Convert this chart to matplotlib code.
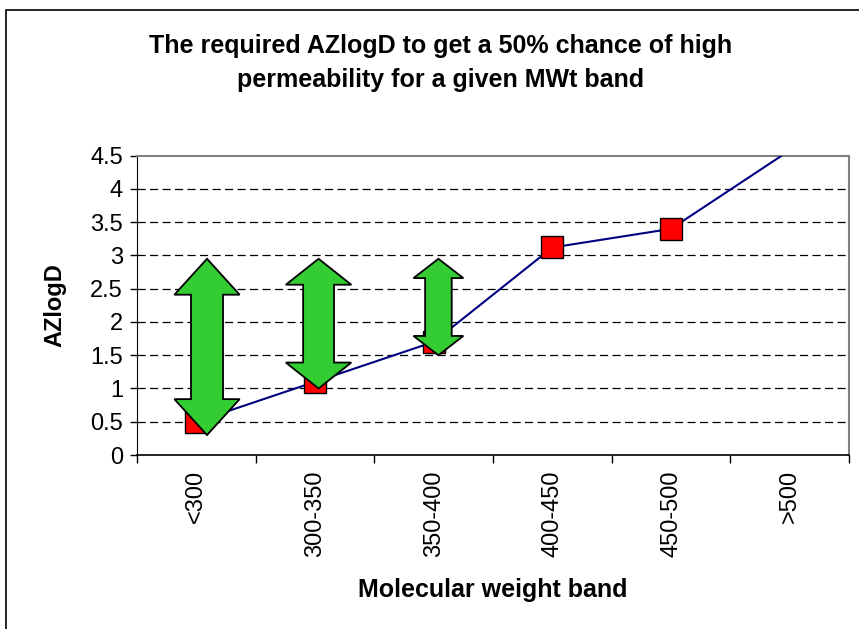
import matplotlib.pyplot as plt
from matplotlib.patches import Polygon, Rectangle
from matplotlib.ticker import FixedLocator, NullFormatter

plt.rcParams['font.family'] = ['Liberation Sans', 'DejaVu Sans']

# data
bands = ['<300', '300-350', '350-400', '400-450', '450-500', '>500']
azlogd = [0.5, 1.1, 1.7, 3.12, 3.4, 4.58]
n_marked = 5  # last band has no marker, only the line

# green double arrows (range of AZlogD shown per band)
arrow_pos = [0.09, 1.03, 2.04]
arrow_top = [2.95, 2.95, 2.95]
arrow_bottom = [0.3, 1.0, 1.5]
arrow_head_hw = [0.275, 0.276, 0.21]
arrow_shaft_hw = [0.135, 0.13, 0.112]
arrow_head_len = [0.54, 0.39, 0.29]


def double_arrow(xc, y0, y1, hhw, shw, hl):
    pts = [(xc, y1), (xc + hhw, y1 - hl), (xc + shw, y1 - hl), (xc + shw, y0 + hl),
           (xc + hhw, y0 + hl), (xc, y0), (xc - hhw, y0 + hl), (xc - shw, y0 + hl),
           (xc - shw, y1 - hl), (xc - hhw, y1 - hl)]
    return Polygon(pts, closed=True, facecolor='#33cc33', edgecolor='black', linewidth=1.3, zorder=5)


fig = plt.figure(figsize=(8.59, 6.29), dpi=100)
# outer frame (cut off at right/bottom like the original)
fig.patches.append(Rectangle((6 / 859, -0.1), 1.2, 1 - 10 / 629 + 0.1, transform=fig.transFigure,
                             fill=False, edgecolor='black', linewidth=1.2))

ax = fig.add_axes((137 / 859, 1 - 455 / 629, (849 - 137) / 859, (455 - 155.7) / 629))
x = list(range(len(bands)))
ax.plot(x, azlogd, color='#000080', linewidth=1.5, zorder=3)
ax.plot(x[:n_marked], azlogd[:n_marked], linestyle='none', marker='s', markersize=16,
        markerfacecolor='red', markeredgecolor='black', markeredgewidth=1, zorder=4)

for i in range(len(arrow_pos)):
    ax.add_patch(double_arrow(arrow_pos[i], arrow_bottom[i], arrow_top[i],
                              arrow_head_hw[i], arrow_shaft_hw[i], arrow_head_len[i]))

ax.set_xlim(-0.5, len(bands) - 0.5)
ax.set_ylim(0, 4.5)

yt = [i * 0.5 for i in range(10)]
ax.set_yticks(yt)
ax.set_yticklabels(['%g' % v for v in yt], fontsize=17)
ax.tick_params(axis='y', direction='out', length=5, width=1, pad=5)
for v in yt[1:-1]:
    ax.axhline(v, color='black', linewidth=0.9, linestyle=(0, (6.5, 3.5)), zorder=1)

ax.xaxis.set_major_locator(FixedLocator([i - 0.5 for i in range(len(bands) + 1)]))
ax.xaxis.set_major_formatter(NullFormatter())
ax.set_xticks(x, minor=True)
ax.set_xticklabels(bands, minor=True, rotation=90, fontsize=17)
ax.tick_params(axis='x', which='major', direction='out', length=6, width=1)
ax.tick_params(axis='x', which='minor', length=0, pad=11)

ax.spines['left'].set_color('black')
ax.spines['bottom'].set_color('black')
ax.spines['bottom'].set_linewidth(1.2)
ax.spines['top'].set_color('#808080')
ax.spines['right'].set_color('#808080')
ax.spines['top'].set_linewidth(1.5)
ax.spines['right'].set_linewidth(1.5)

ax.set_ylabel('AZlogD', fontsize=17, fontweight='bold')
ax.yaxis.set_label_coords(-(137 - 66) / 712, 0.5)
ax.set_xlabel('Molecular weight band', fontsize=18, fontweight='bold')
ax.xaxis.set_label_coords(0.5, -(578 - 455) / 299.3)
fig.text(441 / 859, 1 - 63 / 629, 'The required AZlogD to get a 50% chance of high\npermeability for a given MWt band',
         ha='center', va='center', fontsize=18, fontweight='bold', linespacing=1.48)

fig.savefig('out.png', dpi=100)
